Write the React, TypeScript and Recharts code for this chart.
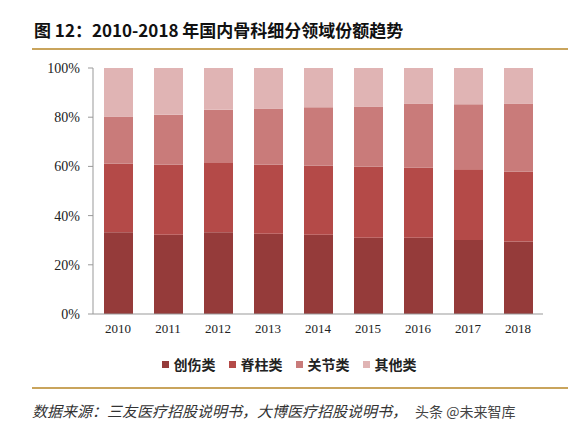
import { BarChart, Bar, XAxis, YAxis } from 'recharts';

const years = ['2010', '2011', '2012', '2013', '2014', '2015', '2016', '2017', '2018'];
const trauma = [33.2, 32.2, 33.2, 32.6, 32.2, 31.0, 31.0, 30.1, 29.5];
const spine = [27.9, 28.5, 28.2, 28.1, 28.1, 28.9, 28.6, 28.7, 28.3];
const joint = [19.2, 20.3, 21.6, 22.8, 23.7, 24.5, 26.0, 26.5, 27.8];
const other = [19.7, 19.0, 17.0, 16.5, 16.0, 15.6, 14.4, 14.7, 14.4];
const seriesNames = ['创伤类', '脊柱类', '关节类', '其他类'];
const seriesColors = ['#953B3A', '#B44A48', '#C97B7A', '#E0B4B4'];
const yTicks = [0, 20, 40, 60, 80, 100];

const data = years.map((year, i) => ({
  year,
  trauma: trauma[i],
  spine: spine[i],
  joint: joint[i],
  other: other[i],
}));
const keys = ['trauma', 'spine', 'joint', 'other'];

const GOLD = '#C9A45C';
const cjk = '"Noto Sans CJK SC", sans-serif';
const serif = '"Liberation Serif", "Times New Roman", serif';

export default function App() {
  return (
    <div style={{ position: 'fixed', left: 0, top: 0, width: 582, height: 430, background: '#fff' }}>
      <div
        style={{
          position: 'absolute', left: 34, top: 19, fontFamily: cjk, fontWeight: 700,
          fontSize: 17, color: '#111', whiteSpace: 'nowrap', lineHeight: '22px',
        }}
      >
        图 12：2010-2018 年国内骨科细分领域份额趋势
      </div>
      <div style={{ position: 'absolute', left: 32, top: 48, width: 536, height: 2, background: GOLD }} />

      <div style={{ position: 'absolute', left: 0, top: 0 }}>
        <BarChart
          width={582}
          height={344}
          data={data}
          margin={{ top: 68, right: 39, left: 0, bottom: 0 }}
          barSize={29}
        >
          <XAxis
            dataKey="year"
            axisLine={{ stroke: '#999' }}
            tickLine={false}
            tickSize={0}
            tickMargin={10}
            height={30}
            tick={{ fill: '#222', fontSize: 13, fontFamily: serif }}
          />
          <YAxis
            domain={[0, 100]}
            ticks={yTicks}
            width={93}
            axisLine={{ stroke: '#999' }}
            tickLine={{ stroke: '#999' }}
            tickSize={5}
            tickMargin={8}
            tickFormatter={(v) => `${v}%`}
            tick={{ fill: '#222', fontSize: 14, fontFamily: serif }}
          />
          {keys.map((k, i) => (
            <Bar
              key={k}
              dataKey={k}
              name={seriesNames[i]}
              stackId="a"
              fill={seriesColors[i]}
              isAnimationActive={false}
            />
          ))}
        </BarChart>
      </div>

      <div
        style={{
          position: 'absolute', left: 0, width: 582, top: 354, display: 'flex',
          justifyContent: 'center', fontFamily: cjk, fontSize: 14, fontWeight: 700, color: '#222',
        }}
      >
        <div style={{ display: 'flex', gap: 13, marginLeft: -4 }}>
          {seriesNames.map((n, i) => (
            <div key={n} style={{ display: 'flex', alignItems: 'center', whiteSpace: 'nowrap' }}>
              <span style={{ display: 'inline-block', width: 7, height: 7, background: seriesColors[i], marginRight: 5 }} />
              {n}
            </div>
          ))}
        </div>
      </div>

      <div style={{ position: 'absolute', left: 32, top: 387, width: 536, height: 2, background: GOLD }} />
      <div
        style={{
          position: 'absolute', left: 32, top: 401, fontFamily: cjk, fontStyle: 'italic',
          fontSize: 15, color: '#333', whiteSpace: 'nowrap', lineHeight: '20px',
        }}
      >
        数据来源：三友医疗招股说明书，大博医疗招股说明书，
      </div>
      <div
        style={{
          position: 'absolute', left: 415, top: 401, fontFamily: cjk,
          fontSize: 14, color: '#444', whiteSpace: 'nowrap', lineHeight: '20px',
        }}
      >
        头条 @未来智库
      </div>
    </div>
  );
}
